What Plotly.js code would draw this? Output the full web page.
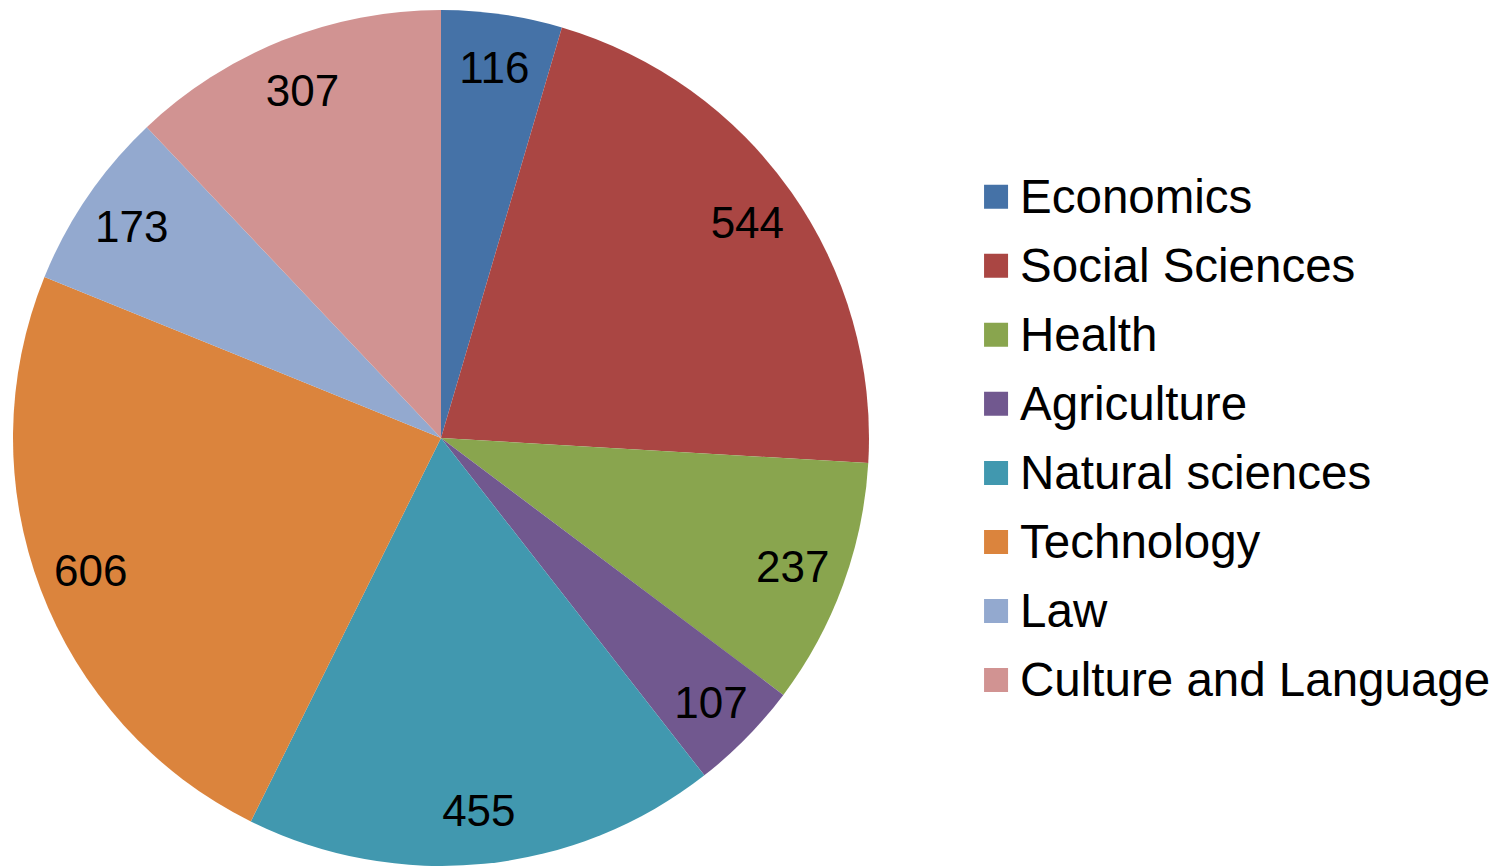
<!DOCTYPE html>
<html>
<head>
<meta charset="utf-8">
<script src="https://cdn.plot.ly/plotly-3.0.1.min.js"></script>
<style>html,body{margin:0;padding:0;background:#fff;}#chart{width:1505px;height:866px;}</style>
</head>
<body>
<div id="chart"></div>
<script>
const categories = ["Economics", "Social Sciences", "Health", "Agriculture", "Natural sciences", "Technology", "Law", "Culture and Language"];
const counts = [116, 544, 237, 107, 455, 606, 173, 307];
const colors = ["#4572A7", "#AA4643", "#89A54E", "#71588F", "#4198AF", "#DB843D", "#93A9CF", "#D19392"];

const FONT = "Arial, 'Liberation Sans', sans-serif";
const pieDomain = {x: [12/1505, 870/1505], y: [0, 856/866]};
const legendLabels = categories.map(c => '<span style="font-size:47.5px">' + c + '</span>');

// Filled pie (slices + legend)
const slices = {
  type: "pie",
  labels: legendLabels,
  values: counts,
  sort: false,
  direction: "clockwise",
  rotation: 0,
  marker: {colors: colors, line: {width: 0}},
  textinfo: "none",
  hoverinfo: "skip",
  domain: pieDomain
};

// Transparent ring overlay carrying the value labels near the outer edge
const labelsRing = {
  type: "pie",
  labels: legendLabels,
  values: counts,
  sort: false,
  direction: "clockwise",
  rotation: 0,
  hole: 0.75,
  marker: {colors: colors.map(() => "rgba(0,0,0,0)"), line: {width: 0}},
  textinfo: "value",
  textposition: "inside",
  insidetextorientation: "horizontal",
  textfont: {family: FONT, size: 44, color: "#000"},
  hoverinfo: "skip",
  showlegend: false,
  domain: pieDomain
};

const layout = {
  width: 1505,
  height: 866,
  margin: {l: 0, r: 0, t: 0, b: 0},
  paper_bgcolor: "#fff",
  showlegend: true,
  legend: {
    x: 0.6512, y: 0.498, xanchor: "left", yanchor: "middle",
    font: {family: FONT, size: 50.8, color: "#000"},
    itemwidth: 30,
    traceorder: "normal"
  },
  uniformtext: {mode: "show", minsize: 44}
};

Plotly.newPlot("chart", [slices, labelsRing], layout, {displayModeBar: false, staticPlot: true}).then(gd => {
  // enlarge legend colour squares to match the reference
  gd.querySelectorAll("path.legendpie").forEach(p => {
    p.setAttribute("d", "M12,12H-12V-12H12Z");
    p.setAttribute("transform", "translate(16,4)");
  });
});
</script>
</body>
</html>
